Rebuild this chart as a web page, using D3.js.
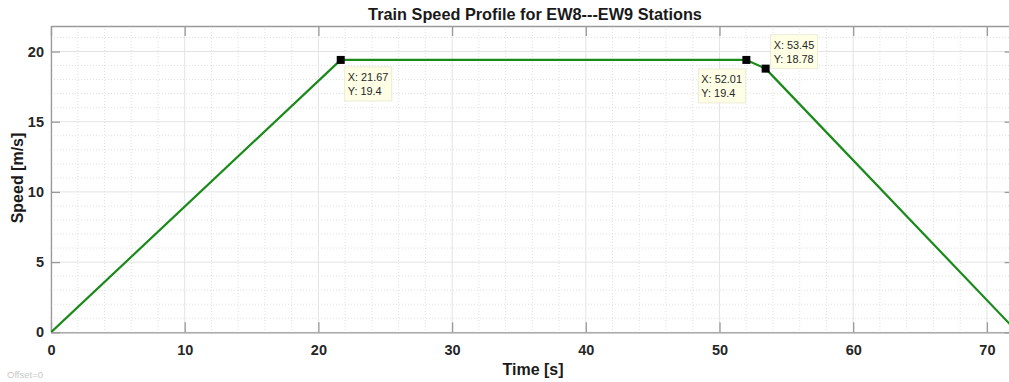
<!DOCTYPE html>
<html>
<head>
<meta charset="utf-8">
<script src="https://cdn.jsdelivr.net/npm/d3@7"></script>
<style>
  html, body { margin: 0; padding: 0; background: #fff; }
  svg { display: block; font-family: "Liberation Sans", Arial, Helvetica, sans-serif; }
</style>
</head>
<body>
<svg id="chart" width="1009" height="382"></svg>
<script>
// Speed profile between stations EW8 and EW9 (time in s, speed in m/s)
const timeValues  = [0, 21.67, 52.01, 53.45, 72.3];
const speedValues = [0, 19.4, 19.4, 18.78, 0];

// Data tips shown on the curve
const tipTimes  = [21.67, 52.01, 53.45];
const tipSpeeds = [19.4, 19.4, 18.78];

const xTicks = [0, 10, 20, 30, 40, 50, 60, 70];
const yTicks = [0, 5, 10, 15, 20];
const xMinorTicks = d3.range(0, 73, 2);
const yMinorTicks = d3.range(0, 22, 1);

const titleText = "Train Speed Profile for EW8---EW9 Stations";
const xLabel = "Time [s]";
const yLabel = "Speed [m/s]";

(function draw() {
  const svg = d3.select("#chart");
  const plotLeft = 51, plotTop = 26, plotBottom = 332.3;
  const x = d3.scaleLinear().domain([0, 72]).range([plotLeft, plotLeft + 72 * 13.37]);
  const y = d3.scaleLinear().domain([0, 21.8]).range([plotBottom, plotBottom - 21.8 * 14.04]);
  const plotRight = x(72);

  svg.append("defs").append("clipPath").attr("id", "plotClip")
    .append("rect").attr("x", plotLeft).attr("y", plotTop)
    .attr("width", plotRight - plotLeft).attr("height", plotBottom - plotTop);

  // minor grid (dotted)
  const grid = svg.append("g");
  grid.selectAll("line.mx").data(xMinorTicks.filter(v => v % 10 !== 0)).join("line")
    .attr("x1", d => x(d)).attr("x2", d => x(d)).attr("y1", plotTop).attr("y2", plotBottom)
    .attr("stroke", "#e0e0e0").attr("stroke-width", 1).attr("stroke-dasharray", "1,2");
  grid.selectAll("line.my").data(yMinorTicks.filter(v => v % 5 !== 0)).join("line")
    .attr("x1", plotLeft).attr("x2", plotRight).attr("y1", d => y(d)).attr("y2", d => y(d))
    .attr("stroke", "#e0e0e0").attr("stroke-width", 1).attr("stroke-dasharray", "1,2");
  // major grid
  svg.append("g").selectAll("line").data(xTicks).join("line")
    .attr("x1", d => x(d)).attr("x2", d => x(d)).attr("y1", plotTop).attr("y2", plotBottom)
    .attr("stroke", "#e3e3e3").attr("stroke-width", 1);
  svg.append("g").selectAll("line").data(yTicks).join("line")
    .attr("x1", plotLeft).attr("x2", plotRight).attr("y1", d => y(d)).attr("y2", d => y(d))
    .attr("stroke", "#e3e3e3").attr("stroke-width", 1);

  // axes box with inward ticks on all four sides
  const axisColor = "#9a9a9a";
  const xb = svg.append("g").attr("transform", `translate(0,${plotBottom})`)
    .call(d3.axisBottom(x).tickValues(xTicks).tickSizeInner(-10).tickSizeOuter(0).tickPadding(12));
  const xt = svg.append("g").attr("transform", `translate(0,${plotTop})`)
    .call(d3.axisTop(x).tickValues(xTicks).tickSizeInner(-10).tickSizeOuter(0).tickFormat(""));
  const yl = svg.append("g").attr("transform", `translate(${plotLeft},0)`)
    .call(d3.axisLeft(y).tickValues(yTicks).tickSizeInner(-9).tickSizeOuter(0).tickPadding(7));
  const yr = svg.append("g").attr("transform", `translate(${plotRight},0)`)
    .call(d3.axisRight(y).tickValues(yTicks).tickSizeInner(-9).tickSizeOuter(0).tickFormat(""));
  [xb, xt, yl, yr].forEach(g => {
    g.select(".domain").attr("stroke", axisColor).attr("stroke-width", 1.3);
    g.selectAll(".tick line").attr("stroke", axisColor).attr("stroke-width", 1.3);
    g.selectAll(".tick text").attr("fill", "#262626").attr("font-size", 14.5)
      .attr("font-weight", "bold").attr("font-family", "'Liberation Sans', Arial, sans-serif");
  });

  // speed curve
  const line = d3.line().x((d, i) => x(timeValues[i])).y((d, i) => y(speedValues[i]));
  svg.append("path").datum(timeValues).attr("clip-path", "url(#plotClip)")
    .attr("d", line).attr("fill", "none").attr("stroke", "#1a8a1a").attr("stroke-width", 2.2)
    .attr("stroke-linejoin", "round");

  // data tips
  const tipOffsets = [[4, 7], [-48, 9], [5, -34]];
  tipTimes.forEach((t, i) => {
    const px = x(t), py = y(tipSpeeds[i]);
    const [dx, dy] = tipOffsets[i];
    const g = svg.append("g").attr("transform", `translate(${px + dx},${py + dy})`);
    g.append("rect").attr("x", 0).attr("y", 0).attr("width", 47).attr("height", 34)
      .attr("fill", "#ffffe6").attr("stroke", "#ebebd7").attr("stroke-width", 1);
    g.append("text").attr("x", 3).attr("y", 14).attr("font-size", 10.9).attr("fill", "#262626")
      .text("X: " + t.toFixed(2));
    g.append("text").attr("x", 3).attr("y", 28).attr("font-size", 10.9).attr("fill", "#262626")
      .text("Y: " + tipSpeeds[i]);
    svg.append("rect").attr("x", px - 4).attr("y", py - 4).attr("width", 8).attr("height", 8)
      .attr("fill", "#000");
  });

  // title and axis labels
  svg.append("text").attr("x", 535).attr("y", 20).attr("text-anchor", "middle")
    .attr("font-size", 16.3).attr("font-weight", "bold").attr("fill", "#1a1a1a").text(titleText);
  svg.append("text").attr("x", 533).attr("y", 375).attr("text-anchor", "middle")
    .attr("font-size", 16).attr("font-weight", "bold").attr("fill", "#1a1a1a").text(xLabel);
  svg.append("text").attr("transform", "translate(23,178) rotate(-90)").attr("text-anchor", "middle")
    .attr("font-size", 16).attr("font-weight", "bold").attr("fill", "#1a1a1a").text(yLabel);
  svg.append("text").attr("x", 7).attr("y", 378).attr("font-size", 9.5).attr("fill", "#c8c8c8").text("Offset=0");
})();
</script>
</body>
</html>
